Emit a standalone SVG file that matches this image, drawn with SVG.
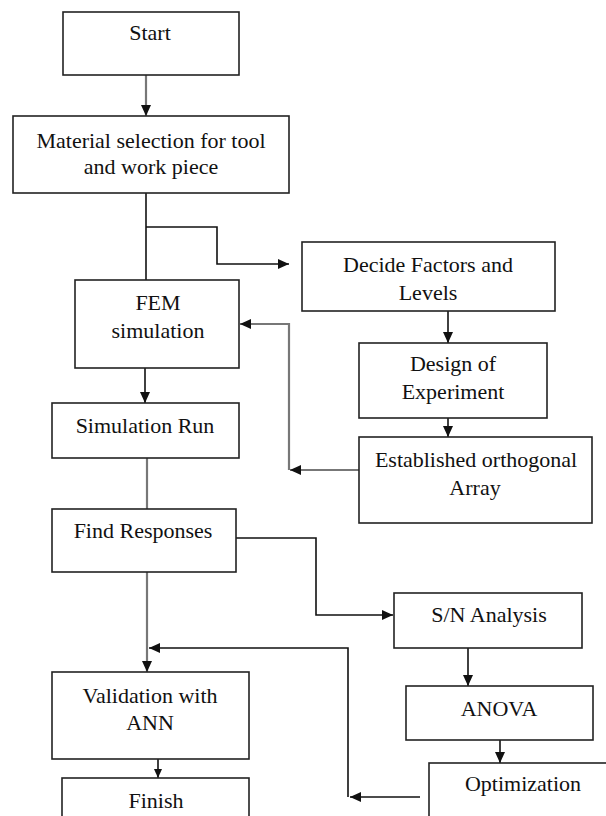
<svg xmlns="http://www.w3.org/2000/svg" width="606" height="816" viewBox="0 0 606 816">
<defs>
<marker id="ah" markerUnits="userSpaceOnUse" markerWidth="12" markerHeight="12" viewBox="0 0 12 12" refX="11" refY="6" orient="auto">
<path d="M0,1 L11,6 L0,11 Z" fill="#111"/>
</marker>
<marker id="ahs" markerUnits="userSpaceOnUse" markerWidth="10" markerHeight="10" viewBox="0 0 10 10" refX="9" refY="5" orient="auto">
<path d="M0,1 L9,5 L0,9 Z" fill="#111"/>
</marker>
</defs>
<style>
.box{fill:#fff;stroke:#222;stroke-width:1.6}
.t{font-family:'Liberation Serif','DejaVu Serif','Noto Serif',serif;font-size:22px;fill:#111;text-anchor:middle}
.c{fill:none;stroke:#111;stroke-width:1.6}
.g{fill:none;stroke:#777;stroke-width:2.2}
</style>
<g id="connectors">
<path class="g" d="M146,75 V116" marker-end="url(#ah)"/>
<path class="c" d="M146,193 V280"/>
<path class="c" d="M146,227 H217 V264 H289" marker-end="url(#ah)"/>
<path class="c" d="M448,311 V343" marker-end="url(#ah)"/>
<path class="c" d="M448,418 V437" marker-end="url(#ah)"/>
<path class="g" d="M359,470 H290" marker-end="url(#ah)"/>
<path class="g" d="M289,470 V324 H240" marker-end="url(#ah)"/>
<path class="c" d="M145,368 V403" marker-end="url(#ah)"/>
<path class="g" d="M147,458 V509"/>
<path class="c" d="M236,538 H316 V615 H393" marker-end="url(#ah)"/>
<path class="c" d="M468,648 V686" marker-end="url(#ah)"/>
<path class="c" d="M500,740 V763" marker-end="url(#ah)"/>
<path class="c" d="M420,797 H350" marker-end="url(#ah)"/>
<path class="c" d="M348,797 V648 H149" marker-end="url(#ah)"/>
<path class="g" d="M147,572 V672" marker-end="url(#ah)"/>
<path class="c" d="M158,759 V778" marker-end="url(#ahs)"/>
</g>
<g id="start"><rect class="box" x="63" y="12" width="176" height="63"/><text class="t" x="150" y="40">Start</text></g>
<g id="material"><rect class="box" x="13" y="116" width="276" height="77"/><text class="t" x="151" y="148">Material selection for tool</text><text class="t" x="151" y="174">and work piece</text></g>
<g id="decide"><rect class="box" x="302" y="242" width="253" height="69"/><text class="t" x="428" y="272">Decide Factors and</text><text class="t" x="428" y="300">Levels</text></g>
<g id="design"><rect class="box" x="359" y="343" width="188" height="75"/><text class="t" x="453" y="371">Design of</text><text class="t" x="453" y="399">Experiment</text></g>
<g id="established"><rect class="box" x="359" y="437" width="233" height="86"/><text class="t" x="476" y="467">Established orthogonal</text><text class="t" x="475" y="495">Array</text></g>
<g id="fem"><rect class="box" x="75" y="280" width="164" height="88"/><text class="t" x="158" y="310">FEM</text><text class="t" x="158" y="338">simulation</text></g>
<g id="simrun"><rect class="box" x="52" y="403" width="187" height="55"/><text class="t" x="145" y="433">Simulation Run</text></g>
<g id="findresp"><rect class="box" x="52" y="509" width="184" height="63"/><text class="t" x="143" y="538">Find Responses</text></g>
<g id="sn"><rect class="box" x="394" y="593" width="188" height="55"/><text class="t" x="489" y="622">S/N Analysis</text></g>
<g id="anova"><rect class="box" x="406" y="686" width="187" height="54"/><text class="t" x="499" y="716">ANOVA</text></g>
<g id="optimization"><rect class="box" x="429" y="763" width="190" height="70"/><text class="t" x="523" y="791">Optimization</text></g>
<g id="validation"><rect class="box" x="52" y="672" width="197" height="87"/><text class="t" x="150" y="703">Validation with</text><text class="t" x="150" y="730">ANN</text></g>
<g id="finish"><rect class="box" x="62" y="778" width="187" height="60"/><text class="t" x="156" y="808">Finish</text></g>
</svg>
